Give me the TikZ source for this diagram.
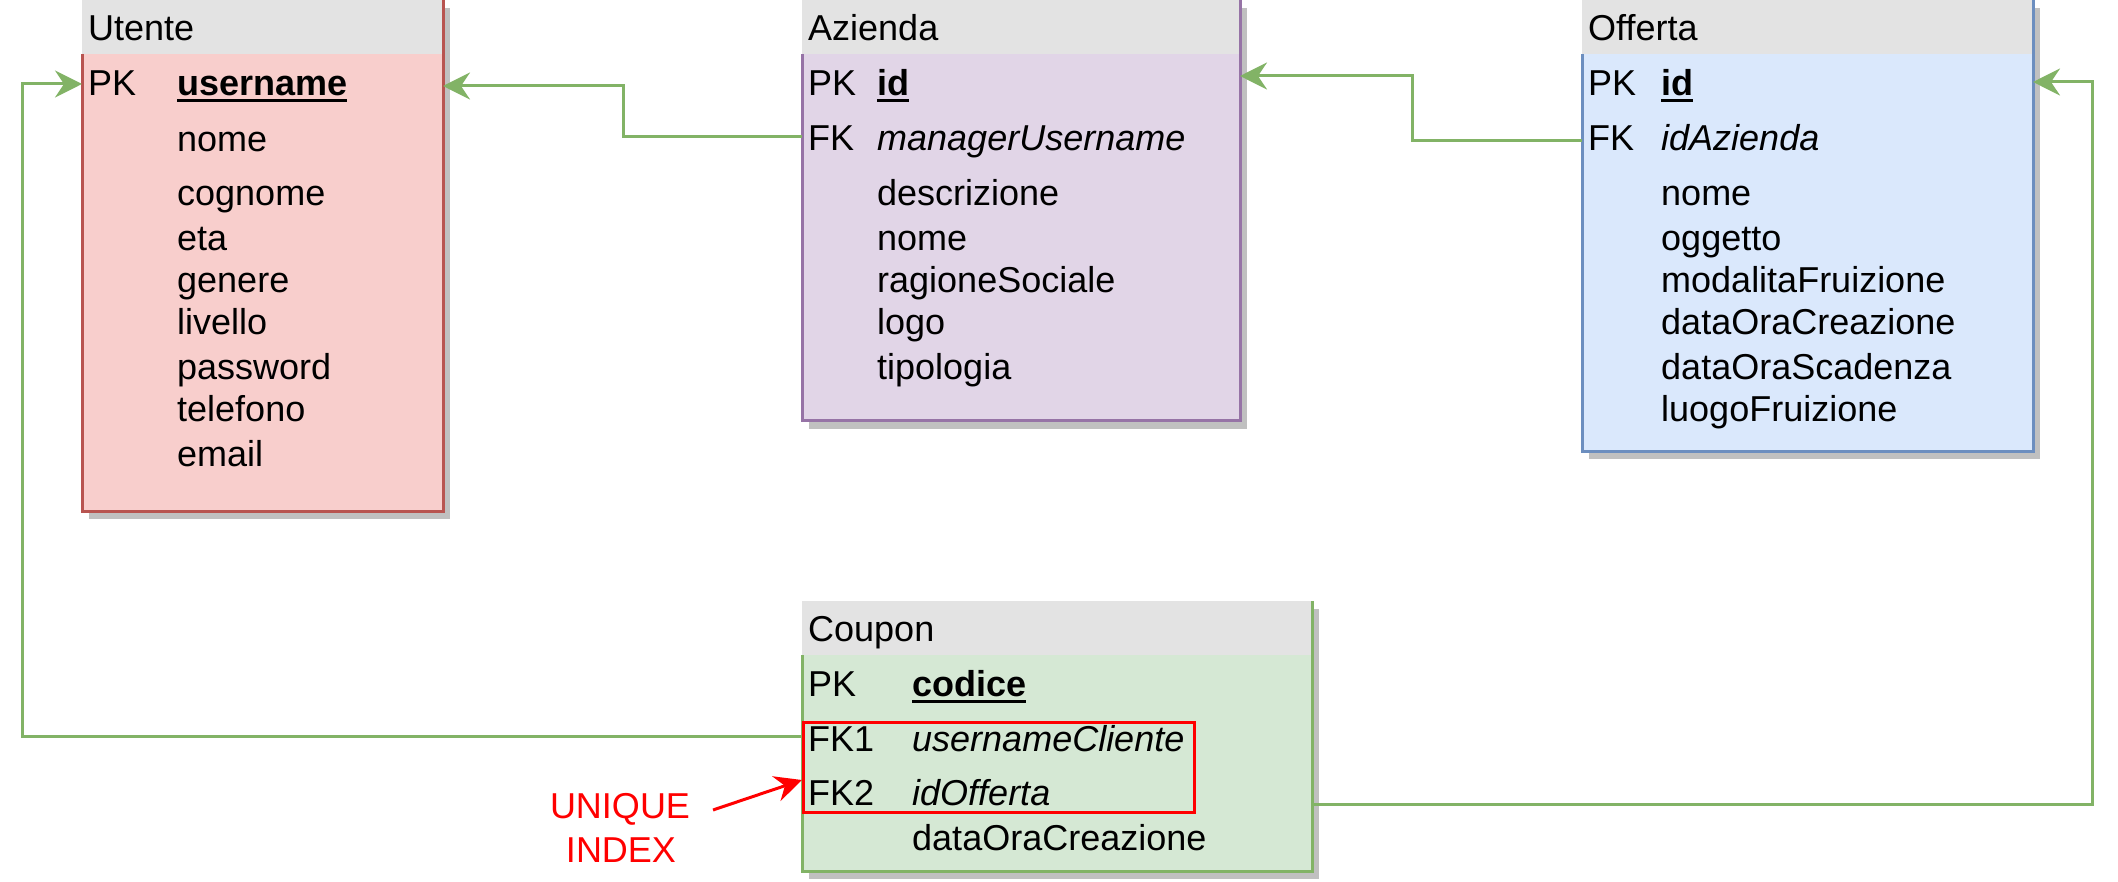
\documentclass[tikz,border=0pt]{standalone}
\usepackage{fontspec}
\setmainfont{Liberation Sans}
\usetikzlibrary{arrows.meta}
\definecolor{hdr}{HTML}{E3E3E3}
\definecolor{shd}{HTML}{C0C0C0}
\definecolor{ufill}{HTML}{F8CECC}\definecolor{uline}{HTML}{B85450}
\definecolor{afill}{HTML}{E1D5E7}\definecolor{aline}{HTML}{9673A6}
\definecolor{ofill}{HTML}{DAE8FC}\definecolor{oline}{HTML}{6C8EBF}
\definecolor{cfill}{HTML}{D5E8D4}\definecolor{cline}{HTML}{82B366}
\definecolor{conncol}{HTML}{82B366}
\newcommand\ertable[7]{% name, left, top, right, bottom, fill, line
  \fill[shd] (#2+7,#3+8) rectangle (#4+7,#5+8);
  \node[fill=#6, inner sep=0pt, outer sep=0pt, anchor=north west,
        minimum width=#4-#2, minimum height=#5-#3] (#1) at (#2,#3) {};
  \fill[hdr] (#2,#3) rectangle (#4,#3+54);
  \draw[#7, line width=3pt] (#2,#3+54) -- (#2,#5) -- (#4,#5) -- (#4,#3);
}
\newcommand\ulbl[1]{\draw[line width=3pt] ([yshift=-5pt]#1.base west) -- ([yshift=-5pt]#1.base east);}
\tikzset{
  txt/.style={anchor=base west, inner sep=0pt, yshift=-3pt, font=\fontsize{36}{43}\selectfont},
  pktxt/.style={anchor=base west, inner sep=0pt, yshift=-3pt, font=\fontsize{36}{43}\selectfont\bfseries},
  fktxt/.style={anchor=base west, inner sep=0pt, yshift=-3pt, font=\fontsize{36}{43}\selectfont\itshape},
  redtxt/.style={anchor=base, inner sep=0pt, yshift=-2pt, text=red, font=\fontsize{36}{43}\selectfont},
  conn/.style={draw=conncol, line width=3pt, -{Stealth[length=27pt,width=27pt,inset=9pt]}},
  redarrow/.style={draw=red, line width=3pt, -{Stealth[length=27pt,width=26pt,inset=9pt]}},
}
\begin{document}
\begin{tikzpicture}[x=1pt,y=-1pt]
\useasboundingbox (0,0) rectangle (2118,882);

% ---------------- Utente
\ertable{utente}{82}{0}{443}{511}{ufill}{uline}
\node[txt] (utT) at (88,38) {Utente};
\node[txt] (utPKk) at (88,93) {PK};
\node[pktxt] (utPK) at (177,93) {username};
\ulbl{utPK}
\node[txt] (ut1) at (177,149) {nome};
\node[txt] (ut2) at (177,203) {cognome};
\node[txt] (ut3) at (177,248) {eta};
\node[txt] (ut4) at (177,290) {genere};
\node[txt] (ut5) at (177,332) {livello};
\node[txt] (ut6) at (177,377) {password};
\node[txt] (ut7) at (177,418) {telefono};
\node[txt] (ut8) at (177,463) {email};

% ---------------- Azienda
\ertable{azienda}{802}{0}{1240}{421}{afill}{aline}
\node[txt] (azT) at (808,38) {Azienda};
\node[txt] (azPKk) at (808,93) {PK};
\node[pktxt] (azPK) at (877,93) {id};
\ulbl{azPK}
\node[txt] (azFKk) at (808,148) {FK};
\node[fktxt] (azFK) at (877,148) {managerUsername};
\node[txt] (az1) at (877,203) {descrizione};
\node[txt] (az2) at (877,248) {nome};
\node[txt] (az3) at (877,290) {ragioneSociale};
\node[txt] (az4) at (877,332) {logo};
\node[txt] (az5) at (877,377) {tipologia};

% ---------------- Offerta
\ertable{offerta}{1582}{0}{2033}{451}{ofill}{oline}
\node[txt] (ofT) at (1588,38) {Offerta};
\node[txt] (ofPKk) at (1588,93) {PK};
\node[pktxt] (ofPK) at (1661,93) {id};
\ulbl{ofPK}
\node[txt] (ofFKk) at (1588,148) {FK};
\node[fktxt] (ofFK) at (1661,148) {idAzienda};
\node[txt] (of1) at (1661,203) {nome};
\node[txt] (of2) at (1661,248) {oggetto};
\node[txt] (of3) at (1661,290) {modalitaFruizione};
\node[txt] (of4) at (1661,332) {dataOraCreazione};
\node[txt] (of5) at (1661,377) {dataOraScadenza};
\node[txt] (of6) at (1661,418) {luogoFruizione};

% ---------------- Coupon
\ertable{coupon}{802}{601}{1312}{871}{cfill}{cline}
\node[txt] (cpT) at (808,638) {Coupon};
\node[txt] (cpPKk) at (808,693) {PK};
\node[pktxt] (cpPK) at (912,693) {codice};
\ulbl{cpPK}
\node[txt] (cpFK1k) at (808,748) {FK1};
\node[fktxt] (cpFK1) at (912,748) {usernameCliente};
\node[txt] (cpFK2k) at (808,802) {FK2};
\node[fktxt] (cpFK2) at (912,802) {idOfferta};
\node[txt] (cp1) at (912,847) {dataOraCreazione};

% unique index box and label
\node[draw=red, line width=3pt, inner sep=0pt, anchor=north west,
      minimum width=391, minimum height=90] (uidx) at (802,721) {};
\node[redtxt] (uiA) at (620,816) {UNIQUE};
\node[redtxt] (uiB) at (621,860) {INDEX};
\coordinate (redS) at (713,810);
\draw[redarrow] (redS) -- (uidx.west |- 0,780);

% ---------------- connectors
\draw[conn] (azienda.west |- 0,137) -- (623,137) |- (utente.east |- 0,86);
\draw[conn] (offerta.west |- 0,141) -- (1412,141) |- (azienda.east |- 0,76);
\draw[conn] (coupon.west |- 0,736) -- (22,736) |- (utente.west |- 0,84);
\draw[conn] (coupon.east |- 0,804) -- (2092,804) |- (offerta.east |- 0,82);
\end{tikzpicture}
\end{document}
